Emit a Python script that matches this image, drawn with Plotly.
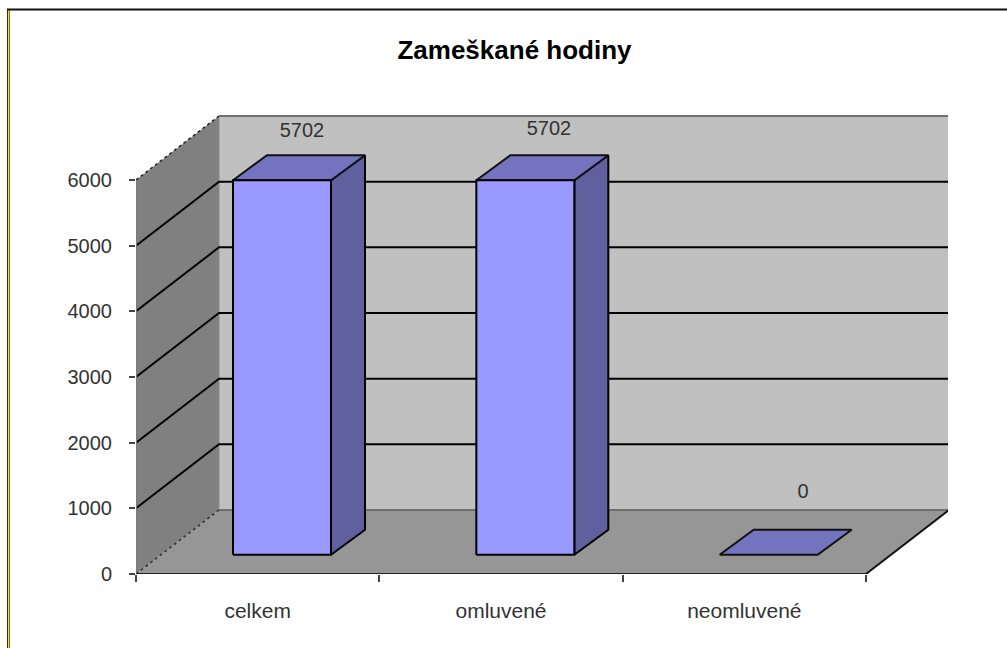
import plotly.graph_objects as go

categories = ["celkem", "omluvené", "neomluvené"]
values = [5702, 5702, 0]
y_ticks = [0, 1000, 2000, 3000, 4000, 5000, 6000]
grid_values = [1000, 2000, 3000, 4000, 5000]
title = "Zameškané hodiny"

W, H = 1007, 648
L, R, T, B = 136, 948, 100, 574
PX_X = (866 - 136) / 3.0          # pixels per category
PX_Y = (574 - 180) / 6000.0       # pixels per value unit

def dx(px): return px / PX_X
def dy(px): return px / PX_Y

wall_dx, wall_dy = dx(83), dy(64)
bar_dx, bar_dy = dx(34), dy(25)
base_dx, base_dy = dx(25), dy(19.3)
gap, width = dx(72), dx(98)
TOP = 6000

FRONT, TOPC, SIDE = "#9999FF", "#7373BF", "#60609F"
BACK, LEFTW, FLOOR = "#C0C0C0", "#808080", "#969696"
FONT = "Liberation Sans"
TEXTC = "#333333"

fig = go.Figure()

def poly(xs, ys, fill, line="rgba(0,0,0,0)", w=0):
    fig.add_trace(go.Scatter(x=xs + xs[:1], y=ys + ys[:1], mode="lines", fill="toself",
                             fillcolor=fill, line=dict(color=line, width=w),
                             hoverinfo="skip", showlegend=False, cliponaxis=False))

def seg(xs, ys, color="#000000", w=2, dash="solid"):
    fig.add_trace(go.Scatter(x=xs, y=ys, mode="lines", line=dict(color=color, width=w, dash=dash),
                             hoverinfo="skip", showlegend=False, cliponaxis=False))

n = len(categories)
# walls and floor
poly([wall_dx, n + wall_dx, n + wall_dx, wall_dx], [wall_dy, wall_dy, TOP + wall_dy, TOP + wall_dy], BACK)
poly([0, wall_dx, wall_dx, 0], [0, wall_dy, TOP + wall_dy, TOP], LEFTW)
poly([0, n, n + wall_dx, wall_dx], [0, 0, wall_dy, wall_dy], FLOOR)

# wall borders
seg([wall_dx, n + wall_dx, n + wall_dx], [TOP + wall_dy, TOP + wall_dy, wall_dy], "#707070", 2)
seg([wall_dx, n + wall_dx], [wall_dy, wall_dy], "#6e6e6e", 2)
seg([wall_dx, wall_dx], [wall_dy, TOP + wall_dy], "#8a8a8a", 1)
seg([0, wall_dx], [TOP, TOP + wall_dy], "#222222", 1.5, "dot")
seg([0, wall_dx], [0, wall_dy], "#333333", 1.5, "dot")

# gridlines
for v in grid_values:
    seg([0, wall_dx, n + wall_dx], [v, v + wall_dy, v + wall_dy])

# axis lines and floor edge
seg([0, 0], [0, TOP], "#7a7a7a", 2)
seg([0, n], [0, 0], "#222222", 2)
seg([n, n + wall_dx], [0, wall_dy], "#111111", 2)

# bars
for i, v in enumerate(values):
    x0 = i + gap + base_dx
    x1 = x0 + width
    y0 = base_dy
    y1 = y0 + v
    if v > 0:
        poly([x1, x1 + bar_dx, x1 + bar_dx, x1], [y0, y0 + bar_dy, y1 + bar_dy, y1], SIDE, "#000000", 2)
    poly([x0, x1, x1 + bar_dx, x0 + bar_dx], [y1, y1, y1 + bar_dy, y1 + bar_dy], TOPC, "#111111", 2)
    if v > 0:
        poly([x0, x1, x1, x0], [y0, y0, y1, y1], FRONT, "#000000", 2)

# data labels
label_x = [dx(302 - 136), dx(549 - 136), dx(803 - 136)]
label_y = [values[0] + dy(574 - 132 - values[0] * PX_Y),
           values[1] + dy(574 - 130 - values[1] * PX_Y),
           values[2] + dy(574 - 493)]
fig.add_trace(go.Scatter(x=label_x, y=label_y, mode="text", text=[str(v) for v in values],
                         textposition="middle center", textfont=dict(family=FONT, size=20, color=TEXTC),
                         hoverinfo="skip", showlegend=False, cliponaxis=False))

# outer frame
fx = lambda p: (p - L) / (R - L)
fy = lambda p: (B - p) / (B - T)
for px, col in [(7.5, "#33330A"), (8.5, "#E8E800"), (9.5, "#777766")]:
    fig.add_shape(type="line", xref="paper", yref="paper", x0=fx(px), x1=fx(px), y0=fy(9), y1=fy(648),
                  line=dict(color=col, width=1))
fig.add_shape(type="line", xref="paper", yref="paper", x0=fx(7), x1=fx(1007), y0=fy(9.5), y1=fy(9.5),
              line=dict(color="#111111", width=2))

fig.update_layout(
    width=W, height=H,
    margin=dict(l=L, r=W - R, t=T, b=H - B, pad=0),
    paper_bgcolor="#FFFFFF", plot_bgcolor="#FFFFFF",
    showlegend=False,
    title=dict(text="<b>" + title + "</b>", x=514.5 / W, xanchor="center", y=1 - 50 / H, yanchor="middle",
               font=dict(family=FONT, size=26, color="#000000")),
    xaxis=dict(range=[0, (R - L) / PX_X], showgrid=False, zeroline=False, showline=False,
               tickmode="array", tickvals=[i + 0.5 for i in range(n)], ticktext=categories,
               ticks="", ticklabelstandoff=22, tickfont=dict(family=FONT, size=21, color=TEXTC),
               minor=dict(tickmode="array", tickvals=list(range(n + 1)), ticks="outside", ticklen=7,
                          tickwidth=1.5, tickcolor="#444444", showgrid=False)),
    yaxis=dict(range=[0, (B - T) / PX_Y], showgrid=False, zeroline=False, showline=False,
               tickmode="array", tickvals=y_ticks, ticks="outside", ticklen=6, tickwidth=1.5,
               tickcolor="#444444", tickfont=dict(family=FONT, size=20, color=TEXTC),
               ticklabelstandoff=13),
)

fig.write_html("out.html", config={"displayModeBar": False},
               post_script="document.body.style.margin='0';document.body.style.overflow='hidden';")
